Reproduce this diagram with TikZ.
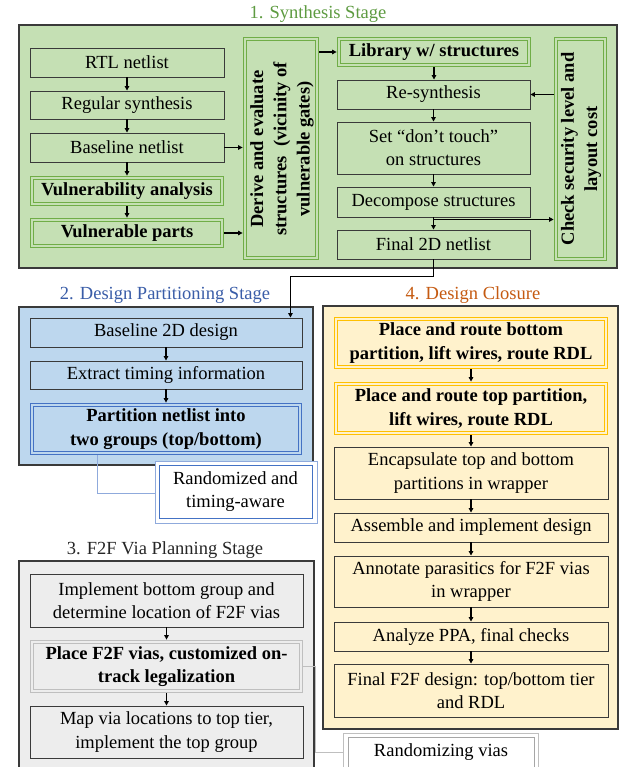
\documentclass[tikz,border=0pt]{standalone}
\usepackage{fontspec}
\setmainfont{Liberation Serif}
\usetikzlibrary{arrows.meta}
\definecolor{gfill}{HTML}{C5E0B4}
\definecolor{gline}{HTML}{70AD47}
\definecolor{gtitle}{HTML}{5E9B41}
\definecolor{bfill}{HTML}{BDD7EE}
\definecolor{bline}{HTML}{4472C4}
\definecolor{blight}{HTML}{8FAADC}
\definecolor{btitle}{HTML}{3A5DA8}
\definecolor{yfill}{HTML}{FFF2CC}
\definecolor{yline}{HTML}{FFC000}
\definecolor{ytitle}{HTML}{C55A11}
\definecolor{kfill}{HTML}{EDEDED}
\definecolor{kline}{HTML}{BFBFBF}
\definecolor{kdark}{HTML}{A6A6A6}
\definecolor{edgec}{HTML}{3A3A3A}
\newcommand\myfs{\fontsize{18.5}{23.3}\selectfont}
\begin{document}
\begin{tikzpicture}[x=1pt,y=-1pt,
  stagebox/.style={draw=edgec, line width=1.1pt, inner sep=0pt},
  title/.style={font=\myfs, inner sep=0pt},
  box/.style={draw=edgec, line width=0.9pt, inner sep=0pt, align=center, font=\myfs},
  dbl/.style={draw=#1, double distance=2.2pt, line width=0.8pt, inner sep=0pt, align=center, font=\myfs\bfseries},
  gd/.style={dbl=gline, double=gfill},
  bd/.style={dbl=bline, double=bfill},
  yd/.style={dbl=yline, double=yfill},
  kd/.style={dbl=kline, double=kfill},
  rot/.style={rotate=90, align=center, font=\myfs\bfseries, inner sep=0pt},
  arr/.style={-{Triangle[length=4.5pt,width=4.5pt]}, line width=1.2pt, black},
  callb/.style={draw=blight, line width=0.9pt},
  callk/.style={draw=kline, line width=0.9pt}
]
\useasboundingbox (0,0) rectangle (621,767);
\fill[white] (0,0) rectangle (621,767);

% ---------- Stage 1 ----------
\node[stagebox, fill=gfill, minimum width=598, minimum height=243] (s1) at (318,146.5) {};
\node[title, text=gtitle] (t1) at (318,14) {1. Synthesis Stage};

\node[box, minimum width=194, minimum height=29] (rtl) at (127,62.5) {RTL netlist};
\node[box, minimum width=194, minimum height=28] (regsyn) at (127,105) {Regular synthesis};
\node[box, minimum width=194, minimum height=29] (base) at (127,147.5) {Baseline netlist};
\node[gd, minimum width=190.2, minimum height=26.2] (vulan) at (127,191) {Vulnerability analysis};
\node[gd, minimum width=190.2, minimum height=26.2] (vulp) at (127,233) {Vulnerable parts};

\node[gd, minimum width=72.2, minimum height=219.2] (derive) at (281,148.5) {};
\node[rot] (derivet) at (282,149) {Derive and evaluate\\structures~~(vicinity of\\vulnerable gates)};

\node[gd, minimum width=190.2, minimum height=26.2] (lib) at (434,52) {Library w/ structures};
\node[box, minimum width=193, minimum height=29] (resyn) at (433.5,94.5) {Re-synthesis};
\node[box, minimum width=193, minimum height=52] (dont) at (433.5,148) {Set ``don't touch''\\on structures};
\node[box, minimum width=193, minimum height=30] (decomp) at (433.5,202) {Decompose structures};
\node[box, minimum width=193, minimum height=29] (final) at (433.5,244.5) {Final 2D netlist};

\node[gd, minimum width=49.2, minimum height=220.2] (check) at (580.5,149) {};
\node[rot] (checkt) at (581,149) {Check security level and\\layout cost};

\draw[arr] (rtl.south) -- (regsyn.north);
\draw[arr] (regsyn.south) -- (base.north);
\draw[arr] (base.south) -- ([yshift=1.9pt]vulan.north);
\draw[arr] ([yshift=-1.9pt]vulan.south) -- ([yshift=1.9pt]vulp.north);
\draw[arr] (base.east) -- ([xshift=-1.9pt]base.east -| derive.west);
\draw[arr] ([xshift=1.9pt]vulp.east) -- ([xshift=-1.9pt]vulp.east -| derive.west);
\draw[arr] ([xshift=1.9pt]lib.west -| derive.east) -- ([xshift=-1.9pt]lib.west);
\draw[arr] ([yshift=-1.9pt]lib.south) -- (lib.south |- resyn.north);
\draw[arr] ([xshift=-1.9pt]check.west |- resyn.east) -- (resyn.east);
\draw[arr] (resyn.south) -- (dont.north);
\draw[arr] (dont.south) -- (decomp.north);
\draw[arr] (decomp.south) -- (final.north);
\path (decomp.south) ++(0,2) coordinate (jn);
\draw[arr] (jn) -- ([xshift=-1.9pt]jn -| check.west);

% ---------- Stage 2 ----------
\node[stagebox, fill=bfill, minimum width=294, minimum height=158] (s2) at (166,386) {};
\node[title, text=btitle] (t2) at (165,295) {2. Design Partitioning Stage};

\node[box, minimum width=272, minimum height=29] (b2d) at (166,332.5) {Baseline 2D design};
\node[box, minimum width=272, minimum height=28] (extract) at (166,375) {Extract timing information};
\node[bd, minimum width=268.2, minimum height=48.2] (partition) at (166,429) {Partition netlist into\\two groups (top/bottom)};

\draw[arr] (b2d.south) -- (extract.north);
\draw[arr] (extract.south) -- ([yshift=1.9pt]partition.north);
\draw[arr] (final.south) -- ++(0,17) -| ([xshift=-12pt]b2d.north east);

\node[draw=blight, line width=0.9pt, fill=white, minimum width=162, minimum height=62, inner sep=0pt] (rando) at (236,492) {};
\node[box, draw=bline, minimum width=153, minimum height=53] (randi) at (235.5,491.5) {Randomized and\\timing-aware};
\draw[callb] ([xshift=-69pt,yshift=-1.9pt]partition.south) |- ([yshift=-1pt]rando.west);

% ---------- Stage 4 ----------
\node[stagebox, fill=yfill, minimum width=295, minimum height=423] (s4) at (470.5,517.5) {};
\node[title, text=ytitle] (t4) at (473,295) {4. Design Closure};

\node[yd, minimum width=270.2, minimum height=48.2] (pb) at (471,343) {Place and route bottom\\partition, lift wires, route RDL};
\node[yd, minimum width=270.2, minimum height=49.2] (ptop) at (471,408.5) {Place and route top partition,\\lift wires, route RDL};
\node[box, minimum width=274, minimum height=52] (enc) at (471,473) {Encapsulate top and bottom\\partitions in wrapper};
\node[box, minimum width=274, minimum height=29] (asm) at (471,527.5) {Assemble and implement design};
\node[box, minimum width=274, minimum height=51] (ann) at (471,581.5) {Annotate parasitics for F2F vias\\in wrapper};
\node[box, minimum width=274, minimum height=29] (ppa) at (471,636.5) {Analyze PPA, final checks};
\node[box, minimum width=274, minimum height=53] (ff) at (471,690.5) {Final F2F design: top/bottom tier\\and RDL};

\draw[arr] ([yshift=-1.9pt]pb.south) -- ([yshift=1.9pt]ptop.north);
\draw[arr] ([yshift=-1.9pt]ptop.south) -- (enc.north);
\draw[arr] (enc.south) -- (asm.north);
\draw[arr] (asm.south) -- (ann.north);
\draw[arr] (ann.south) -- (ppa.north);
\draw[arr] (ppa.south) -- (ff.north);

% ---------- Stage 3 ----------
\node[stagebox, fill=kfill, minimum width=295, minimum height=229] (s3) at (166.5,675.5) {};
\node[title, text=black!85] (t3) at (165,550) {3. F2F Via Planning Stage};

\node[box, minimum width=273, minimum height=53] (impl) at (166.5,600.5) {Implement bottom group and\\determine location of F2F vias};
\node[kd, minimum width=269.2, minimum height=49.2] (pf2f) at (166.5,666.5) {Place F2F vias, customized on-\\track legalization};
\node[box, minimum width=273, minimum height=52] (map) at (166.5,732) {Map via locations to top tier,\\implement the top group};

\draw[arr] (impl.south) -- ([yshift=1.9pt]pf2f.north);
\draw[arr] ([yshift=-1.9pt]pf2f.south) -- (map.north);

\node[draw=kline, line width=0.9pt, fill=white, minimum width=195, minimum height=47, inner sep=0pt] (rvo) at (440.5,756.5) {};
\node[draw=kdark, line width=0.9pt, minimum width=186, minimum height=43, inner sep=0pt] (rvi) at (441,758.5) {};
\node[title] (rvt) at (441,752) {Randomizing vias};
\draw[callk] ([xshift=1.9pt]pf2f.east) -- ++(12,0) |- ([yshift=4.5pt]rvo.west);
\end{tikzpicture}
\end{document}
